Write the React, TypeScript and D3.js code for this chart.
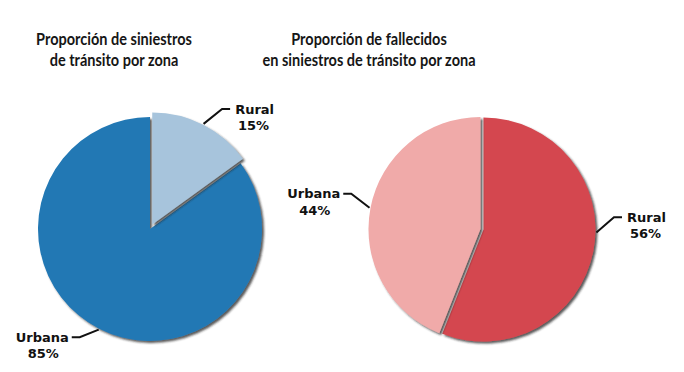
import React from "react";
import * as d3 from "d3";

const W = 684;
const H = 372;

// Chart 1: siniestros por zona
const zones = ["Rural", "Urbana"];
const siniestrosValues = [15, 85];
const siniestrosColors = ["#a7c4dc", "#2178b4"];
const siniestrosTitle = ["Proporción de siniestros", "de tránsito por zona"];

// Chart 2: fallecidos por zona
const fallecidosValues = [56, 44];
const fallecidosColors = ["#d4474f", "#f0aaa9"];
const fallecidosTitle = ["Proporción de fallecidos", "en siniestros de tránsito por zona"];

type PieSpec = {
  cx: number;
  cy: number;
  r: number;
  titleX: number;
  values: number[];
  colors: string[];
  title: string[];
  explode: number[];
  leaderAngle: (number | null)[]; // degrees, null = mid-angle
  elbowDelta: number[]; // degrees added to leader angle for elbow
  elbowR: number[];
};

const specs: PieSpec[] = [
  {
    cx: 150,
    cy: 229,
    r: 112,
    titleX: 114,
    values: siniestrosValues,
    colors: siniestrosColors,
    title: siniestrosTitle,
    explode: [5, 0],
    leaderAngle: [null, null],
    elbowDelta: [4, 6],
    elbowR: [140, 129],
  },
  {
    cx: 480.5,
    cy: 229,
    r: 112,
    titleX: 369,
    values: fallecidosValues,
    colors: fallecidosColors,
    title: fallecidosTitle,
    explode: [3, 0],
    leaderAngle: [91.5, null],
    elbowDelta: [-6.5, 4.5],
    elbowR: [134, 134],
  },
];

const rad = (deg: number) => (deg * Math.PI) / 180;

function Pie({ spec, idx }: { spec: PieSpec; idx: number }) {
  const pie = d3
    .pie<number>()
    .sort(null)
    .value((d) => d);
  const arcs = pie(spec.values);
  const arcGen = d3.arc<d3.PieArcDatum<number>>().innerRadius(0).outerRadius(spec.r);
  // draw larger slices first so smaller slice's shadow overlaps
  const order = arcs.map((_, i) => i).sort((a, b) => spec.values[b] - spec.values[a]);
  const fmt = (v: number) => `${v}%`;

  return (
    <g>
      <g
        fontFamily="Lato, 'Open Sans', sans-serif"
        fontWeight={700}
        fontSize={16.5}
        fill="#161616"
        textAnchor="middle"
        transform={`translate(${spec.titleX},0) scale(0.88,1)`}
      >
        {spec.title.map((t, i) => (
          <text key={i} x={0} y={45 + i * 21}>
            {t}
          </text>
        ))}
      </g>
      <g transform={`translate(${spec.cx},${spec.cy})`}>
        {order.map((i) => {
          const a = arcs[i];
          const mid = (a.startAngle + a.endAngle) / 2;
          const dx = Math.sin(mid) * spec.explode[i];
          const dy = -Math.cos(mid) * spec.explode[i];
          return (
            <path
              key={i}
              d={arcGen(a) || ""}
              transform={`translate(${dx},${dy})`}
              fill={spec.colors[i]}
              filter={`url(#shadow${idx})`}
            />
          );
        })}
        {arcs.map((a, i) => {
          const midDeg = ((a.startAngle + a.endAngle) / 2) * (180 / Math.PI);
          const la = spec.leaderAngle[i] ?? midDeg;
          const ex = Math.sin(rad(midDeg)) * spec.explode[i];
          const ey = -Math.cos(rad(midDeg)) * spec.explode[i];
          const p0 = [ex + Math.sin(rad(la)) * (spec.r + 1), ey - Math.cos(rad(la)) * (spec.r + 1)];
          const ea = la + spec.elbowDelta[i];
          const p1 = [Math.sin(rad(ea)) * spec.elbowR[i], -Math.cos(rad(ea)) * spec.elbowR[i]];
          const right = Math.sin(rad(la)) > 0;
          const side = right ? 1 : -1;
          const p2 = [p1[0] + side * 8, p1[1]];
          const name = zones[i];
          const halfW = name === "Urbana" ? 26.5 : 21.5;
          const tx = p2[0] + side * (3 + halfW);
          const ty = p1[1] + 4.5;
          return (
            <g key={`l${i}`}>
              <polyline
                points={`${p0[0]},${p0[1]} ${p1[0]},${p1[1]} ${p2[0]},${p2[1]}`}
                fill="none"
                stroke="#111"
                strokeWidth={2}
              />
              <g fontFamily="'DejaVu Sans', Verdana, sans-serif" fontWeight={700} fontSize={13} fill="#111" textAnchor="middle">
                <text x={tx} y={ty}>
                  {name}
                </text>
                <text x={tx - side * 1} y={ty + 16.5}>
                  {fmt(spec.values[i])}
                </text>
              </g>
            </g>
          );
        })}
      </g>
    </g>
  );
}

export default function App() {
  return (
    <svg
      width={W}
      height={H}
      viewBox={`0 0 ${W} ${H}`}
      style={{ position: "absolute", left: 0, top: 0, background: "#fff" }}
    >
      <defs>
        {specs.map((_, idx) => (
          <filter key={idx} id={`shadow${idx}`} x="-20%" y="-20%" width="140%" height="140%">
            <feDropShadow dx={2} dy={2} stdDeviation={1.3} floodColor="#222" floodOpacity={0.75} />
          </filter>
        ))}
      </defs>
      <rect width={W} height={H} fill="#fff" />
      {specs.map((s, idx) => (
        <Pie key={idx} spec={s} idx={idx} />
      ))}
    </svg>
  );
}
